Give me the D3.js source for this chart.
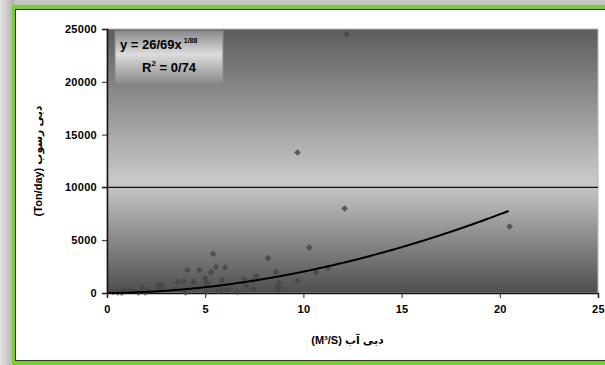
<!DOCTYPE html>
<html>
<head>
<meta charset="utf-8">
<script src="https://cdn.jsdelivr.net/npm/d3@7"></script>
<style>
  body { margin: 0; background: #fff; }
  text { font-family: "Liberation Sans", "DejaVu Sans", Arial, sans-serif; font-weight: bold; }
</style>
</head>
<body>
<svg id="chart" width="605" height="365"></svg>
<script>
// water discharge (m3/s) vs sediment discharge (ton/day)
const flowX = [0.3, 0.55, 0.75, 0.9, 1.2, 1.4, 1.6, 1.8, 1.95, 2.1, 2.6, 2.8, 2.7, 3.6, 3.9, 4.0, 4.1, 4.4, 4.7, 5.0,
  5.05, 5.1, 5.05, 5.3, 5.4, 5.55, 5.65, 5.85, 5.85, 6.0, 6.1, 6.25, 6.65, 7.0, 7.1, 7.45, 7.4, 7.6, 8.2, 8.6,
  8.65, 8.7, 8.75, 8.8, 9.7, 9.7, 10.3, 10.65, 11.25, 12.1, 12.2, 20.5];
const sedimentY = [100, 60, 40, 200, 280, 190, 50, 470, 50, 280, 760, 760, 380, 1040, 1100, 50, 2180, 1040, 2180, 1420,
  1040, 850, 100, 2000, 3700, 2460, 190, 1200, 280, 2420, 280, 380, 100, 1280, 660, 380, 1140, 1610, 3300, 2000,
  570, 280, 950, 570, 1140, 13300, 4300, 1950, 2370, 8000, 24500, 6300];
const xTicks = [0, 5, 10, 15, 20, 25];
const yTicks = [0, 5000, 10000, 15000, 20000, 25000];
const refLine = 10000;
// power trend line y = a * x^b
const fitA = 26.69;
const fitB = 1.88;
const eqLabel = 'y = 26/69x';
const eqPower = '1/88';
const r2Label = '= 0/74';
const xTitle = 'دبی آب (M³/S)';
const yTitle = 'دبی رسوب (Ton/day)';

const svg = d3.select('#chart');
const defs = svg.append('defs');

const margin = { top: 29, right: 7, bottom: 72, left: 107 };
const width = 605 - margin.left - margin.right;
const height = 365 - margin.top - margin.bottom;

/** frame: grey shadow, green border, white card */
const shade = defs.append('linearGradient').attr('id', 'shade');
shade.append('stop').attr('offset', '0%').attr('stop-color', '#e4e4e4');
shade.append('stop').attr('offset', '100%').attr('stop-color', '#b0b0b0');
svg.append('rect').attr('width', 605).attr('height', 365).attr('fill', '#c4c4c4');
svg.append('rect').attr('width', 14).attr('height', 365).attr('fill', 'url(#shade)');
svg.append('rect').attr('x', 12).attr('y', 5).attr('width', 600).attr('height', 370).attr('fill', '#7ccb35');
svg.append('rect').attr('x', 15).attr('y', 9).attr('width', 600).attr('height', 352).attr('fill', '#333');
svg.append('rect').attr('x', 16).attr('y', 10).attr('width', 600).attr('height', 350).attr('fill', '#fff');

/** plot area gradient */
const bg = defs.append('linearGradient').attr('id', 'plotBg').attr('x1', 0).attr('y1', 0).attr('x2', 0).attr('y2', 1);
bg.append('stop').attr('offset', '0%').attr('stop-color', '#5c5c5c');
bg.append('stop').attr('offset', '58%').attr('stop-color', '#cacaca');
bg.append('stop').attr('offset', '100%').attr('stop-color', '#4e4e4e');

const box = defs.append('linearGradient').attr('id', 'boxBg').attr('x1', 0).attr('y1', 0).attr('x2', 0).attr('y2', 1);
box.append('stop').attr('offset', '0%').attr('stop-color', '#8a8a8a');
box.append('stop').attr('offset', '45%').attr('stop-color', '#dcdcdc');
box.append('stop').attr('offset', '100%').attr('stop-color', '#8c8c8c');

const g = svg.append('g').attr('transform', `translate(${margin.left},${margin.top})`);

const x = d3.scaleLinear().domain([0, 25]).range([0, width]);
const y = d3.scaleLinear().domain([0, 25000]).range([height, 0]);

g.append('rect').attr('width', width).attr('height', height)
  .attr('fill', 'url(#plotBg)').attr('stroke', '#b8b8b8').attr('stroke-width', 1);

/// reference line at 10000
g.append('line')
  .attr('x1', -5).attr('x2', width)
  .attr('y1', y(refLine)).attr('y2', y(refLine))
  .attr('stroke', '#111').attr('stroke-width', 1.2);

/** axes */
const xAxis = g.append('g').attr('transform', `translate(0,${height})`)
  .call(d3.axisBottom(x).tickValues(xTicks).tickSize(5).tickPadding(7).tickFormat(d3.format('d')));
const yAxis = g.append('g')
  .call(d3.axisLeft(y).tickValues(yTicks).tickSize(5).tickPadding(5).tickFormat(d3.format('d')));
[xAxis, yAxis].forEach(a => {
  a.select('.domain').attr('stroke', '#111').attr('stroke-width', 1.5);
  a.selectAll('.tick line').attr('stroke', '#222');
  a.selectAll('.tick text').attr('fill', '#000').style('font-size', '11px').style('letter-spacing', '0.3px');
});

/** points */
const pts = flowX.map((v, i) => ({ q: v, s: sedimentY[i] }));
g.append('g').selectAll('path')
  .data(pts)
  .join('path')
  .attr('d', d3.symbol(d3.symbolSquare, 22))
  .attr('transform', d => `translate(${x(d.q)},${y(d.s)}) rotate(45)`)
  .attr('fill', '#484848')
  .attr('opacity', 0.85);

/** power trend line */
const xMax = d3.max(flowX);
const curve = d3.range(0.05, xMax + 0.001, 0.1).map(q => [q, fitA * Math.pow(q, fitB)]);
g.append('path')
  .datum(curve)
  .attr('fill', 'none')
  .attr('stroke', '#000')
  .attr('stroke-width', 2)
  .attr('d', d3.line().x(d => x(d[0])).y(d => y(d[1])));

/** equation box */
const eq = g.append('g').attr('transform', 'translate(8,2)');
eq.append('rect').attr('width', 108).attr('height', 52).attr('fill', 'url(#boxBg)')
  .attr('stroke', '#8a8a8a');
eq.append('text').attr('x', 5).attr('y', 18).style('font-size', '13px').attr('fill', '#000')
  .text(eqLabel)
  .append('tspan').attr('dy', -6).style('font-size', '7px').text(' ' + eqPower);
const r2 = eq.append('text').attr('x', 54).attr('y', 41).attr('text-anchor', 'middle')
  .style('font-size', '13px').attr('fill', '#000');
r2.append('tspan').text('R');
r2.append('tspan').attr('dy', -6).style('font-size', '8px').text('2');
r2.append('tspan').attr('dy', 6).text(' ' + r2Label);

/** axis titles */
svg.append('text')
  .attr('x', margin.left + width / 2 - 5).attr('y', 344)
  .attr('text-anchor', 'middle').attr('direction', 'rtl')
  .style('font-size', '11px').attr('fill', '#000')
  .text(xTitle);

svg.append('text')
  .attr('transform', `translate(42,${margin.top + height / 2}) rotate(-90)`)
  .attr('text-anchor', 'middle').attr('direction', 'rtl')
  .style('font-size', '11px').attr('fill', '#000')
  .text(yTitle);
</script>
</body>
</html>
